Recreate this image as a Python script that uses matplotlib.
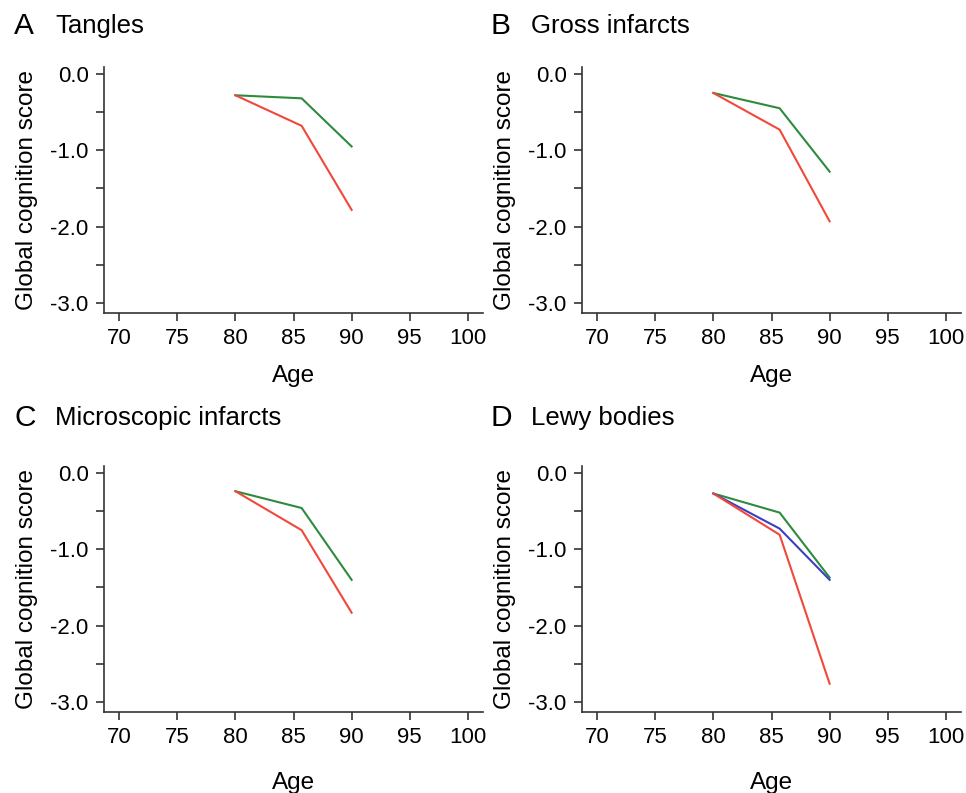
import matplotlib.pyplot as plt

plt.rcParams['font.family'] = ['Liberation Sans', 'DejaVu Sans']

# ---------- dados ----------
AGES = [80, 85.7, 90]

panel_letters = ["A", "B", "C", "D"]
panel_titles = ["Tangles", "Gross infarcts", "Microscopic infarcts", "Lewy bodies"]

green_a = [-0.28, -0.32, -0.95]
red_a = [-0.28, -0.68, -1.78]

green_b = [-0.25, -0.45, -1.28]
red_b = [-0.25, -0.73, -1.93]

green_c = [-0.24, -0.46, -1.40]
red_c = [-0.24, -0.75, -1.83]

green_d = [-0.27, -0.52, -1.37]
blue_d = [-0.27, -0.73, -1.40]
red_d = [-0.27, -0.81, -2.76]

series = [
    [(green_a, "#2e8b3e"), (red_a, "#f0483a")],
    [(green_b, "#2e8b3e"), (red_b, "#f0483a")],
    [(green_c, "#2e8b3e"), (red_c, "#f0483a")],
    [(green_d, "#2e8b3e"), (blue_d, "#3b3fc4"), (red_d, "#f0483a")],
]

X_TICKS = [70, 75, 80, 85, 90, 95, 100]
Y_TICKS = [0.0, -0.5, -1.0, -1.5, -2.0, -2.5, -3.0]
Y_LABELS = ["0.0", "", "-1.0", "", "-2.0", "", "-3.0"]

W, H = 966, 793
fig = plt.figure(figsize=(W / 100, H / 100), dpi=100)

# posições em pixels (esquerda, topo) de cada eixo
pos = [(104, 67), (582, 67), (104, 466), (582, 466)]
ax_w, ax_h = 379, 246
title_pos = [(14, 26), (490, 26), (14, 418), (490, 418)]

cor_eixo = "#333333"
for i in range(4):
    x0, y0 = pos[i]
    ax = fig.add_axes([x0 / W, 1 - (y0 + ax_h) / H, ax_w / W, ax_h / H])
    for vals, cor in series[i]:
        ax.plot(AGES, vals, color=cor, lw=1.5)
    ax.set_xlim(68.7, 101.3)
    ax.set_ylim(-3.13, 0.09)
    ax.set_xticks(X_TICKS)
    ax.set_yticks(Y_TICKS)
    ax.set_yticklabels(Y_LABELS)
    for s in ["top", "right"]:
        ax.spines[s].set_visible(False)
    for s in ["left", "bottom"]:
        ax.spines[s].set_color(cor_eixo)
        ax.spines[s].set_linewidth(1.2)
    ax.tick_params(direction="out", length=6, width=1.2, color=cor_eixo,
                   labelsize=16, labelcolor="black", pad=5)
    ax.set_xlabel("Age", fontsize=17.5, labelpad=11 if i < 2 else 17)
    ax.set_ylabel("Global cognition score", fontsize=17.5, labelpad=9)

    tx, ty = title_pos[i]
    fig.text(tx / W, 1 - ty / H, panel_letters[i], fontsize=21.5, va="center", ha="left")
    fig.text((tx + 41) / W, 1 - ty / H, panel_titles[i], fontsize=18.5, va="center", ha="left")

fig.savefig("out.png", dpi=100)
